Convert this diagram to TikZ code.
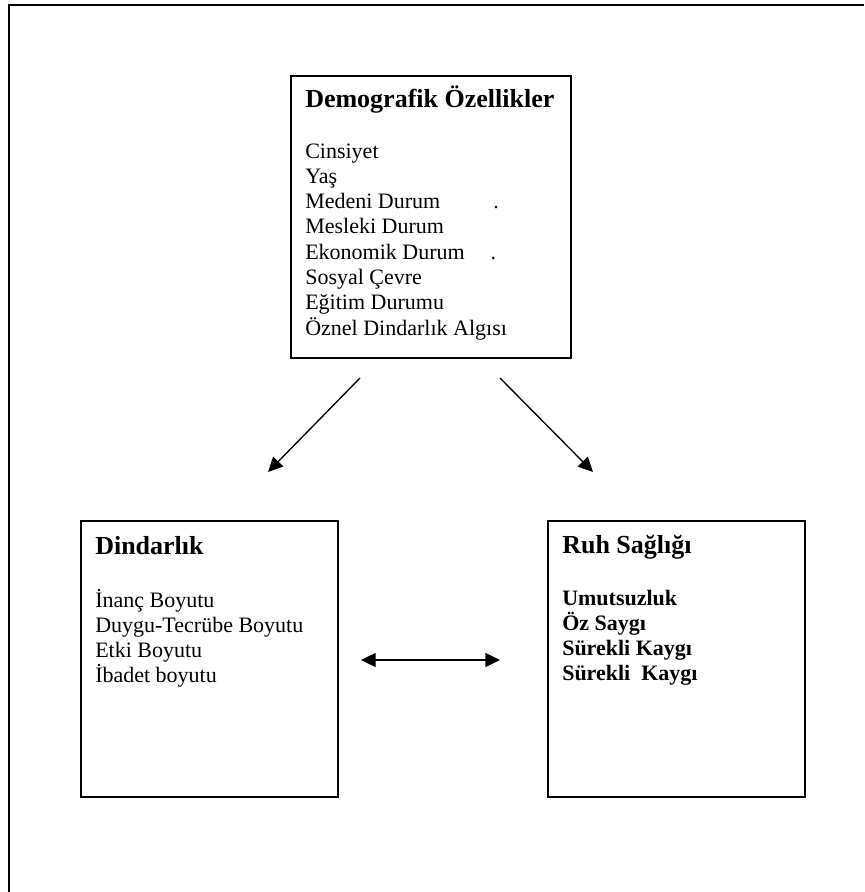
\documentclass[tikz,border=0pt]{standalone}
\usepackage{fontspec}
\setmainfont{Liberation Serif}
\usetikzlibrary{arrows.meta}
\tikzset{
  kutu/.style={draw,line width=1.4pt,anchor=north west,inner sep=0pt},
  baslik/.style={anchor=base west,inner sep=0pt,font=\fontsize{19.5}{22}\selectfont\bfseries},
  madde/.style={anchor=base west,inner sep=0pt,font=\fontsize{16.5}{19}\selectfont},
  ok/.style={line width=1pt,-{Triangle[length=11pt,width=10.5pt]}},
}
\begin{document}
\begin{tikzpicture}[x=0.75pt,y=-0.75pt]
        \useasboundingbox (0,0) rectangle (864,892);
        \draw[line width=2.2pt] (9,892) -- (9,5) -- (864,5);

        % kutular
        \node[kutu,minimum width=210pt,minimum height=211.5pt] (demog) at (290,75) {};
        \node[kutu,minimum width=192.75pt,minimum height=207pt] (dind) at (80,520) {};
        \node[kutu,minimum width=192.75pt,minimum height=207pt] (ruh) at (547,520) {};

        % demografik
        \node[baslik] (demogt) at (305,108) {Demografik Özellikler};
        \foreach \t [count=\i] in {Cinsiyet, Yaş, {\makebox[141pt][l]{Medeni Durum}.}, Mesleki Durum,
            {\makebox[139pt][l]{Ekonomik Durum}.}, Sosyal Çevre, Eğitim Durumu, Öznel Dindarlık Algısı}
          \node[madde] (demog\i) at (305,{158+25.3*(\i-1)}) {\t};

        % dindarlik
        \node[baslik] (dindt) at (95,554) {Dindarlık};
        \foreach \t [count=\i] in {İnanç Boyutu, Duygu-Tecrübe Boyutu, Etki Boyutu, İbadet boyutu}
          \node[madde] (dind\i) at (95,{607+25*(\i-1)}) {\t};

        % ruh sagligi
        \node[baslik] (ruht) at (562,553) {Ruh Sağlığı};
        \foreach \t [count=\i] in {Umutsuzluk, Öz Saygı, Sürekli Kaygı, Sürekli\ \ Kaygı}
          \node[madde,font=\fontsize{16.5}{19}\selectfont\bfseries] (ruh\i) at (562,{605+25*(\i-1)}) {\t};

        % oklar
        \coordinate (a1) at (360,378);
        \coordinate (a2) at (268,472);
        \coordinate (b1) at (500,378);
        \coordinate (b2) at (593,472);
        \coordinate (c1) at (361,660);
        \coordinate (c2) at (500,660);
        \draw[ok] (a1) -- (a2);
        \draw[ok] (b1) -- (b2);
        \draw[ok,{Triangle[length=11pt,width=10.5pt]}-{Triangle[length=11pt,width=10.5pt]}] (c1) -- (c2);
\end{tikzpicture}
\end{document}
